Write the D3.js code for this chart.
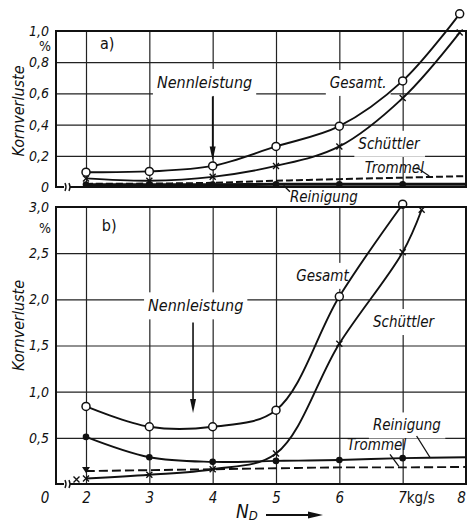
<!DOCTYPE html>
<html>
<head>
<meta charset="utf-8">
<script src="https://cdn.jsdelivr.net/npm/d3@7"></script>
<style>
  body { margin: 0; background: #fff; }
  text { font-family: "DejaVu Sans Condensed", "Liberation Sans Narrow", "DejaVu Sans", sans-serif; fill: #111; }
</style>
</head>
<body>
<svg id="chart" width="469" height="524"></svg>
<script>
// a) Kornverluste, small range
var xA = [2, 3, 4, 5, 6, 7, 7.9];
var gesamtA = [0.095, 0.10, 0.135, 0.26, 0.39, 0.68, 1.11];
var schuettlerA = [0.055, 0.04, 0.065, 0.135, 0.26, 0.57, 0.99];
var xLineA = [2, 3, 4, 5, 6, 7, 8];
var trommelA = [0.02, 0.022, 0.027, 0.04, 0.05, 0.06, 0.07];
var reinigungA = [0.015, 0.015, 0.015, 0.017, 0.018, 0.018, 0.017];

// b) Kornverluste, large range
var xB = [2, 3, 4, 5, 6, 7];
var gesamtB = [0.84, 0.62, 0.62, 0.80, 2.03, 3.03];
var xSchuettlerB = [2, 3, 4, 5, 6, 7, 7.3];
var schuettlerB = [0.06, 0.10, 0.16, 0.33, 1.52, 2.51, 2.97];
var xExtraB = [1.85];
var extraB = [0.05];
var xLineB = [2, 3, 4, 5, 6, 7, 8];
var reinigungB = [0.51, 0.29, 0.24, 0.25, 0.26, 0.28, 0.29];
var trommelB = [0.14, 0.15, 0.16, 0.17, 0.18, 0.18, 0.185];

var ticksA = [0, 0.2, 0.4, 0.6, 0.8, 1.0];
var ticksB = [0, 0.5, 1.0, 1.5, 2.0, 2.5, 3.0];
var ticksX = [2, 3, 4, 5, 6, 7, 8];

var svg = d3.select("#chart"),
    L = 56, R = 466;

var de = d3.formatLocale({decimal: ",", thousands: ".", grouping: [3], currency: ["", ""]});
var f1 = de.format(".1f");
function yFmt(d) { return d === 0 ? "0" : f1(d); }

var x = d3.scaleLinear().domain([2, 8]).range([86, R]);
var line = d3.line().curve(d3.curveCatmullRom.alpha(0.5))
    .x(function(d) { return x(d[0]); });

function pairs(xs, ys) { return xs.map(function(v, i) { return [v, ys[i]]; }); }

function drawPanel(top, bottom, ymax, yticks, series, labels, arrow, tag, opt) {
  var y = d3.scaleLinear().domain([0, ymax]).range([bottom, top]);
  var g = svg.append("g");

  // grid
  g.append("g")
      .attr("transform", "translate(" + L + ",0)")
      .call(d3.axisLeft(y).tickValues(yticks.slice(1, -1)).tickSize(-(R - L)).tickFormat(""))
      .call(function(s) { s.select(".domain").remove(); s.selectAll("line").attr("stroke", "#222").attr("stroke-width", 1.2); });
  g.append("g")
      .attr("transform", "translate(0," + bottom + ")")
      .call(d3.axisBottom(x).tickValues(ticksX.slice(0, -1)).tickSize(-(bottom - top)).tickFormat(""))
      .call(function(s) { s.select(".domain").remove(); s.selectAll("line").attr("stroke", "#222").attr("stroke-width", 1.2); });

  // y labels
  g.append("g")
      .attr("transform", "translate(" + (L - 4) + ",0)")
      .call(d3.axisLeft(y).tickValues(ymax > 1 ? yticks.slice(1) : yticks).tickSize(0).tickFormat(yFmt))
      .call(function(s) {
        s.select(".domain").remove();
        s.selectAll("text").attr("font-size", 14).attr("font-style", "italic").attr("fill", "#111")
          .attr("font-family", null);
      });
  g.append("text").attr("x", L - 11).attr("y", top + opt.pct).attr("text-anchor", "middle")
      .attr("font-size", 14).text("%");
  g.append("text")
      .attr("transform", "translate(24," + ((top + bottom) / 2 + opt.title) + ") rotate(-90)")
      .attr("text-anchor", "middle").attr("font-size", 16).attr("font-style", "italic")
      .text("Kornverluste");

  var bg = g.append("g"), curves = g.append("g"), fg = g.append("g");

  // labels with paper-white gaps behind
  labels.forEach(function(l) {
    var t = fg.append("text").attr("x", x(l.x)).attr("y", y(l.y))
        .attr("font-size", l.size || 15).attr("font-style", "italic").text(l.text);
    if (l.gap !== false) {
      var b = t.node().getBBox();
      bg.append("rect").attr("x", b.x - 4).attr("y", b.y - 4)
          .attr("width", b.width + 8).attr("height", b.height + 8).attr("fill", "#fff");
    }
    if (l.lead) {
      fg.append("line")
          .attr("x1", x(l.lead[0])).attr("y1", y(l.lead[1]))
          .attr("x2", x(l.lead[2])).attr("y2", y(l.lead[3]))
          .attr("stroke", "#111").attr("stroke-width", 1.3);
    }
  });

  // frame with axis break
  g.append("path")
      .attr("d", "M" + (L + 8) + "," + bottom + "H" + L + "V" + top + "H" + R + "V" + bottom + "H" + (L + 14))
      .attr("fill", "none").attr("stroke", "#111").attr("stroke-width", 2);
  g.append("path")
      .attr("d", "M" + (L + 9) + "," + (bottom - 4) + "q2,4 0,8M" + (L + 13) + "," + (bottom - 4) + "q2,4 0,8")
      .attr("fill", "none").attr("stroke", "#111").attr("stroke-width", 1.4);

  // curves
  line.y(function(d) { return y(d[1]); });
  series.forEach(function(s) {
    var pts = pairs(s.x, s.y);
    curves.append("path").attr("d", line(pts))
        .attr("fill", "none").attr("stroke", "#111")
        .attr("stroke-width", s.w || 1.9)
        .attr("stroke-dasharray", s.dash || null);
    var n = s.nm === undefined ? pts.length : s.nm;
    pts.slice(0, n).forEach(function(p) { marker(curves, s.mark, x(p[0]), y(p[1])); });
  });

  // Nennleistung arrow
  var ax = x(arrow[0]), ay0 = y(arrow[1]), ay1 = y(arrow[2]);
  fg.append("line").attr("x1", ax).attr("x2", ax).attr("y1", ay0).attr("y2", ay1 - 10)
      .attr("stroke", "#111").attr("stroke-width", 1.6);
  fg.append("path").attr("d", "M" + (ax - 3) + "," + (ay1 - 14) + "L" + (ax + 3) + "," + (ay1 - 14) + "L" + ax + "," + ay1 + "Z")
      .attr("fill", "#111");

  fg.append("text").attr("x", x(tag[0])).attr("y", y(tag[1]))
      .attr("font-size", 16).text(tag[2]);
  return y;
}

function marker(g, type, cx, cy) {
  if (type === "circle") {
    g.append("circle").attr("cx", cx).attr("cy", cy).attr("r", 4)
        .attr("fill", "#fff").attr("stroke", "#111").attr("stroke-width", 1.5);
  } else if (type === "dot") {
    g.append("circle").attr("cx", cx).attr("cy", cy).attr("r", 3.3).attr("fill", "#111");
  } else if (type === "cross") {
    g.append("path").attr("d", "M" + (cx - 3) + "," + (cy - 3) + "l6,6M" + (cx + 3) + "," + (cy - 3) + "l-6,6")
        .attr("stroke", "#111").attr("stroke-width", 1.4);
  } else if (type === "tri") {
    g.append("path").attr("d", "M" + (cx - 4) + "," + (cy - 4) + "h8l-4,6z").attr("fill", "#111");
  }
}

// panel a
drawPanel(31, 187, 1.0, ticksA, [
  {x: xLineA, y: reinigungA, mark: "dot", nm: 6, w: 3},
  {x: xLineA, y: trommelA, mark: "none", dash: "7,3", w: 2},
  {x: xA, y: schuettlerA, mark: "cross"},
  {x: xA, y: gesamtA, mark: "circle"}
], [
  {x: 3.12, y: 0.635, text: "Nennleistung", size: 16},
  {x: 5.85, y: 0.635, text: "Gesamt."},
  {x: 6.3, y: 0.245, text: "Schüttler"},
  {x: 6.4, y: 0.09, text: "Trommel", gap: false, lead: [7.22, 0.125, 7.42, 0.07]},
  {x: 5.22, y: -0.095, text: "Reinigung", gap: false, lead: [5.22, -0.03, 5.12, 0.01]}
], [4, 0.58, 0.17], [2.22, 0.885, "a)"], {pct: 20, title: 2});

// panel b
var yB = drawPanel(207, 484, 3.0, ticksB, [
  {x: xLineB, y: trommelB, mark: "tri", nm: 1, dash: "9,4", w: 1.9},
  {x: xLineB, y: reinigungB, mark: "dot", nm: 6},
  {x: xSchuettlerB, y: schuettlerB, mark: "cross"},
  {x: xB, y: gesamtB, mark: "circle"}
], [
  {x: 2.98, y: 1.87, text: "Nennleistung", size: 16},
  {x: 5.32, y: 2.2, text: "Gesamt"},
  {x: 6.53, y: 1.7, text: "Schüttler"},
  {x: 6.53, y: 0.58, text: "Reinigung", lead: [7.22, 0.52, 7.43, 0.29]},
  {x: 6.12, y: 0.37, text: "Trommel", gap: false, lead: [6.8, 0.32, 6.94, 0.19]}
], [3.69, 1.75, 0.77], [2.25, 2.74, "b)"], {pct: 26, title: -20});

xExtraB.forEach(function(v, i) { marker(svg, "cross", x(v), yB(extraB[i])); });

// x axis labels
svg.append("g")
    .attr("transform", "translate(0,489)")
    .call(d3.axisBottom(x).tickValues(ticksX).tickSize(0).tickFormat(function(d) { return d; }))
    .call(function(s) {
      s.select(".domain").remove();
      s.selectAll("text").attr("font-size", 15).attr("font-style", "italic").attr("font-family", null).attr("fill", "#111");
      s.selectAll(".tick").filter(function(d) { return d === 7; }).select("text")
          .attr("text-anchor", "start").attr("dx", -5)
          .text("7").append("tspan").attr("font-style", "normal").text("kg/s");
      s.selectAll(".tick").filter(function(d) { return d === 8; }).select("text").attr("dx", -5);
    });
svg.append("text").attr("x", L - 11).attr("y", 503).attr("text-anchor", "middle")
    .attr("font-size", 15).attr("font-style", "italic").text("0");

// N_D
var nd = svg.append("text").attr("x", 236).attr("y", 518).attr("font-size", 19).attr("font-style", "italic");
nd.append("tspan").text("N");
nd.append("tspan").attr("dy", 2).attr("font-size", 13).text("D");
svg.append("line").attr("x1", 266).attr("x2", 310).attr("y1", 515).attr("y2", 515)
    .attr("stroke", "#111").attr("stroke-width", 2);
svg.append("path").attr("d", "M308,511.5L323,515L308,518.5Z").attr("fill", "#111");
</script>
</body>
</html>
